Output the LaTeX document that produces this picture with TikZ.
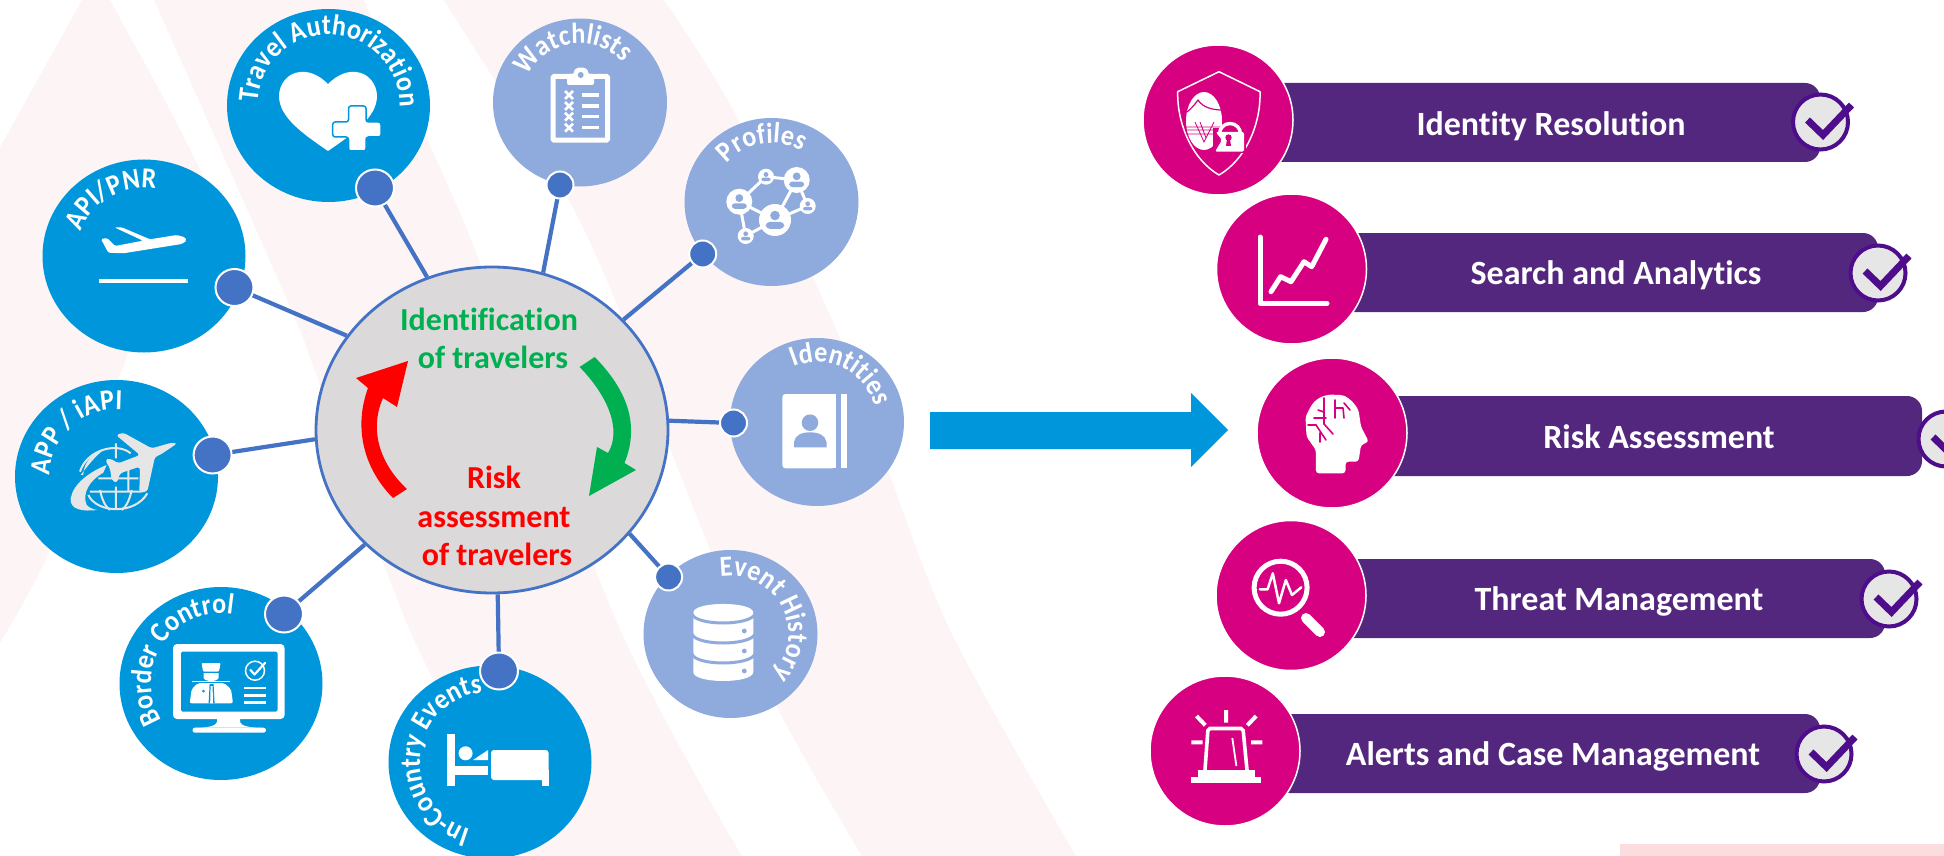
\documentclass[tikz,border=0pt]{standalone}
\usepackage{fontspec}
\setmainfont[Ligatures=NoCommon]{Carlito}
\newfontfamily\curvefam[FakeStretch=0.9,Ligatures=NoCommon]{Carlito}
\usetikzlibrary{shapes.geometric,decorations.text}
\definecolor{bgpink}{HTML}{FDF5F5}
\definecolor{bgrect}{HTML}{FBDDDF}
\definecolor{cblue}{HTML}{0096DB}
\definecolor{clight}{HTML}{8FAADC}
\definecolor{cdot}{HTML}{4472C4}
\definecolor{cgrey}{HTML}{DBD9DA}
\definecolor{cred}{HTML}{FF0000}
\definecolor{cgreen}{HTML}{00B050}
\definecolor{cpink}{HTML}{D60080}
\definecolor{cbar}{HTML}{54277F}
\definecolor{ccheck}{HTML}{4E0E8C}
\definecolor{cpale}{HTML}{E6E6E6}
\tikzset{
  bubble/.style={ellipse,inner sep=0pt,minimum width=203pt,minimum height=193pt,fill=cblue,draw=none},
  lbubble/.style={ellipse,inner sep=0pt,minimum width=174pt,minimum height=168pt,fill=clight,draw=none},
  bigdot/.style={ellipse,inner sep=0pt,minimum width=38pt,minimum height=37pt,fill=cdot,draw=white,line width=2pt},
  smalldot/.style={ellipse,inner sep=0pt,minimum width=27pt,minimum height=27pt,fill=cdot,draw=white,line width=2pt},
  conn/.style={draw=cdot,line width=4.2pt},
  hub/.style={ellipse,inner sep=0pt,minimum width=352pt,minimum height=326pt,fill=cgrey,draw=cdot,line width=2.8pt},
  pinkdisc/.style={circle,inner sep=0pt,minimum size=150pt,fill=cpink,draw=white,line width=1.5pt},
  bartext/.style={anchor=base,text=white,font=\fontsize{34}{40}\selectfont\bfseries},
  hubgreen/.style={anchor=base,text=cgreen,font=\fontsize{32}{38}\selectfont\bfseries},
  hubred/.style={anchor=base,text=cred,font=\fontsize{32}{38}\selectfont\bfseries},
  wline/.style={draw=white,line cap=round,line join=round},
}
\newcommand{\curvefont}{\color{white}\curvefam\fontsize{29}{33}\selectfont\bfseries}
\newcommand{\curvelabel}[5]{%
  \path[decorate,decoration={text along path,text align={left},text={|\curvefont|#5}}]
    ({#1+#3*cos(#4)},{#2-#3*sin(#4)}) arc[start angle={-(#4)},end angle={-(#4)+320},radius=#3];}
\newcommand{\chkring}[2]{%
  \begin{scope}[shift={(#1,#2)}]
    \fill[cpale,draw=ccheck,line width=4pt] (0,0) circle[radius=27.5];
    \draw[ccheck,line width=7pt,line join=miter] (-13,-2) -- (2.5,13) -- (31,-17);
  \end{scope}}
\newcommand{\netp}[3]{%
  \fill[white] (#1,#2) circle[radius=#3];
  \fill[clight] (#1,{#2-0.28*#3}) circle[radius={0.3*#3}];
  \fill[clight,rounded corners={0.25*#3}] ({#1-0.58*#3},{#2+0.12*#3}) rectangle ({#1+0.58*#3},{#2+0.55*#3});}
\begin{document}
\begin{tikzpicture}[x=1pt,y=-1pt]
\useasboundingbox (0,0) rectangle (1944,856);
\clip (0,0) rectangle (1944,856);
% background swooshes
\fill[bgpink] plot[smooth] coordinates {(663,-2) (737,117) (840,338) (890,476) (953,636) (1077,858)}
  -- plot[smooth] coordinates {(863,858) (778,709) (710,549) (673,456) (623,320) (567,197) (450,10) (443,-2)} -- cycle;
\fill[bgpink] plot[smooth] coordinates {(363,-2) (450,190) (480,263) (620,629) (743,858)}
  -- plot[smooth] coordinates {(532,858) (430,673) (387,573) (317,377) (287,300) (153,-2)} -- cycle;
\fill[bgpink] (82,0) -- (110,0) -- plot[smooth] coordinates {(110,0) (170,110) (215,200)}
  -- plot[smooth] coordinates {(128,353) (117,383) (47,557) (0,643)} -- (0,147) -- cycle;
\fill[bgrect] (1620,844) rectangle (1944,856);

% outer discs
\node[bubble] (ta) at (328.5,105.5) {};
\node[bubble] (api) at (144,256) {};
\node[bubble] (app) at (116.5,476.5) {};
\node[bubble] (border) at (221,683.5) {};
\node[bubble] (incountry) at (490,762) {};
\node[lbubble] (watch) at (580,102.5) {};
\node[lbubble] (profiles) at (771.5,202) {};
\node[lbubble] (identities) at (817,422) {};
\node[lbubble] (events) at (730.5,634) {};

% hub and connection dots
\node[hub] (hubc) at (492,430) {};
\draw[conn] (375,188) coordinate (cta) -- (hubc.113);
\node[bigdot] (dta) at (cta) {};
\draw[conn] (234.5,287.5) coordinate (capi) -- (hubc.147);
\node[bigdot] (dapi) at (capi) {};
\draw[conn] (212.6,455) coordinate (capp) -- (hubc.183);
\node[bigdot] (dapp) at (capp) {};
\draw[conn] (284,614) coordinate (cbor) -- (hubc.222);
\node[bigdot] (dborder) at (cbor) {};
\draw[conn] (499,671) coordinate (cinc) -- (hubc.272);
\node[bigdot] (dinc) at (cinc) {};
\draw[conn] (560,185) coordinate (cwat) -- (hubc.72);
\node[smalldot] (dwatch) at (cwat) {};
\draw[conn] (702.7,254) coordinate (cpro) -- (hubc.40);
\node[smalldot] (dprof) at (cpro) {};
\draw[conn] (733.5,423) coordinate (cide) -- (hubc.3);
\node[smalldot] (dident) at (cide) {};
\draw[conn] (668.6,577) coordinate (ceve) -- (hubc.-37.6);
\node[smalldot] (devent) at (ceve) {};

% curved labels
\curvelabel{328.5}{105.5}{71}{178}{Travel Authorization}
\curvelabel{144}{256}{68}{159}{API/PNR}
\curvelabel{116.5}{476.5}{67}{179}{APP / iAPI}
\curvelabel{221}{683.5}{70}{212}{Border Control}
\curvelabel{490}{762}{70}{254}{In-Country Events}
\curvelabel{580}{102.5}{59}{153}{Watchlists}
\curvelabel{771.5}{202}{59}{139}{Profiles}
\curvelabel{817}{422}{60}{113}{Identities}
\curvelabel{730.5}{634}{58}{100}{Event History}

% hub text
\node[hubgreen] (t1) at (489,330) {Identification};
\node[hubgreen] (t2) at (493,368) {of travelers};
\node[hubred] (t3) at (494,488) {Risk};
\node[hubred] (t4) at (494,527) {assessment};
\node[hubred] (t5) at (497,565) {of travelers};
% hub arrows
\fill[cred] (393,498) .. controls (367,472) and (352,432) .. (368,388) -- (356,378) -- (408,361) -- (397,407) -- (383,398)
  .. controls (368,432) and (382,466) .. (407,489) -- cycle;
\fill[cgreen] (579.6,367) .. controls (608,396) and (622,430) .. (608,453) -- (597,447) -- (589,496) -- (636,470) -- (624.5,463)
  .. controls (642,420) and (622,385) .. (594.7,357) -- cycle;

% --- icons: heart + cross
\fill[white] (328,84) .. controls (318,74) and (308,71) .. (300,72) .. controls (287,73) and (279,85) .. (279,96)
  .. controls (279,118) and (305,135) .. (328,151) .. controls (351,135) and (377,118) .. (377,96)
  .. controls (377,85) and (369,73) .. (356,72) .. controls (348,71) and (338,74) .. (328,84) -- cycle;
\filldraw[fill=white,draw=cblue,line width=1.5pt,rounded corners=2.5pt]
  (348.5,106) -- (366,106) -- (366,122) -- (381,122) -- (381,137) -- (366,137) -- (366,151) -- (348.5,151) -- (348.5,137) -- (332.7,137) -- (332.7,122) -- (348.5,122) -- cycle;
% plane
\fill[white,rounded corners=1.5pt] (101,239) -- (107,238) -- (115,246) -- (143,240.7) -- (114.3,227.3) -- (121.7,227.3) -- (150,239.3) -- (176.7,235) -- (185,237.3) -- (186.7,240.7) -- (181.7,244) -- (123.3,253.3) -- (108.3,252.7) -- cycle;
\fill[white] (99,279) rectangle (188,282.6);
% globe + plane
\begin{scope}[shift={(60,430)},x=0.3333pt,y=-0.3333pt]
  \draw[cpale,line width=2pt] (85,195) .. controls (110,250) and (225,255) .. (262,190);
  \draw[cpale,line width=2pt] (60,125) .. controls (80,60) and (170,35) .. (212,70);
  \draw[cpale,line width=2pt] (168,40) -- (168,85) (168,170) -- (168,240) (90,185) -- (245,185) (115,145) -- (235,145)
    (120,180) .. controls (125,205) and (135,230) .. (150,240) (215,180) .. controls (210,205) and (200,230) .. (185,240)
    (205,110) -- (205,185);
  \fill[cpale] (32,205) .. controls (40,160) and (90,125) .. (140,105) -- (130,128) .. controls (90,150) and (65,190) .. (80,225) .. controls (90,235) and (100,238) .. (112,240) .. controls (70,245) and (28,240) .. (32,205) -- cycle;
  \fill[cpale] (70,135) .. controls (70,100) and (95,70) .. (130,60) .. controls (105,80) and (85,105) .. (62,135) -- cycle;
  \fill[cpale,rounded corners=3pt] (352,40) -- (300,75) -- (285,80) -- (262,185) -- (238,188) -- (240,110) -- (180,130) -- (170,160) -- (155,150) -- (150,115) -- (135,90) -- (150,85) -- (175,100) -- (240,75) -- (168,15) -- (190,8) -- (275,55) -- (335,38) -- cycle;
\end{scope}
% monitor
\fill[white,rounded corners=4pt] (173,644) rectangle (284.6,719);
\fill[cblue,rounded corners=1.5pt] (181,651.7) rectangle (277.5,711.7);
\fill[white] (217,717) -- (240,717) -- (240,722) .. controls (241,726) and (250,727.7) .. (262,727.7) -- (195,727.7) .. controls (208,727.7) and (216,726) .. (217,722) -- cycle;
\fill[white,rounded corners=2.4pt] (192.5,727.7) rectangle (266,732.7);
% officer
\fill[white,rounded corners=1pt] (201.6,663) -- (220.6,663) -- (219,671.5) -- (203,671.5) -- cycle;
\fill[white] (203.6,673) -- (218.6,673) -- (218.6,678) .. controls (217,682) and (205,682) .. (203.6,678) -- cycle;
\fill[white,rounded corners=2pt] (198,683) -- (224,683) -- (231,689) -- (233,703.3) -- (189.7,703.3) -- (191.7,689) -- cycle;
\draw[white,line width=1pt] (192,681) -- (230,681);
\fill[cblue] (209.6,684) -- (213.6,684) -- (214.6,703.3) -- (208.6,703.3) -- cycle;
\fill[white] (210.6,686) -- (212.6,686) -- (213,703.3) -- (210.2,703.3) -- cycle;
\fill[cblue] (203.5,691) circle[radius=1.5];
\draw[white,line width=1.5pt] (255,670.7) circle[radius=9.5];
\draw[wline,line width=2.2pt] (250.5,670) -- (254.5,674.5) -- (265,663);
\draw[wline,line width=2.6pt,line cap=butt] (244,688) -- (266,688) (244,695.7) -- (266,695.7) (244,702.7) -- (266,702.7);
% bed
\fill[white] (446.6,734) rectangle (454.5,786);
\fill[white] (454.5,765.7) rectangle (488,775);
\fill[white] (465.6,753.3) circle[radius=7];
\fill[white] (473,760) -- (488,750) -- (488,760) -- cycle;
\fill[white,rounded corners=3pt] (491,750) -- (548.6,750) -- (548.6,780) -- (491,780) -- cycle;
\fill[white] (541.5,770) rectangle (548.6,786);
% clipboard
\draw[white,line width=5pt,rounded corners=1pt] (553.2,76.5) rectangle (607.5,140.2);
\fill[white,rounded corners=2pt] (567,74) -- (574,74) .. controls (574,66) and (588,66) .. (588,74) -- (594,74) -- (594,85) -- (567,85) -- cycle;
\fill[clight] (580.7,75) circle[radius=3];
\foreach \yy in {95,106,116.7,127.7}{
  \draw[white,line width=2.6pt] (565,\yy-4) -- (573,\yy+4) (565,\yy+4) -- (573,\yy-4);
  \draw[white,line width=3.6pt] (582.3,\yy) -- (599,\yy);
}
% network
\draw[white,line width=3pt] (766,176.7) -- (796.7,180) (766,176.7) -- (739.3,201.7) (796.7,180) -- (775,220) (796.7,180) -- (807.7,206)
  (775,220) -- (807.7,206) (739.3,201.7) -- (775,220) (739.3,201.7) -- (745.7,236) (745.7,236) -- (775,220);
\netp{766}{176.7}{8}
\netp{796.7}{180}{13}
\netp{739.3}{201.7}{13}
\netp{775}{220}{16}
\netp{807.7}{206}{8}
\netp{745.7}{236}{8}
% contact book
\fill[white,rounded corners=3pt] (782.4,394) -- (835.5,394) -- (835.5,468.3) -- (782.4,468.3) -- cycle;
\fill[white] (832,394) rectangle (835.5,468.3);
\fill[white] (840.8,394) rectangle (847,468.3);
\fill[clight] (810,422.7) circle[radius=8.3];
\fill[clight] (794,447.3) -- (794,442) .. controls (795,435) and (802,432.3) .. (810,432.3) .. controls (818,432.3) and (825.5,435) .. (826.5,442) -- (826.5,447.3) -- cycle;
% database
\fill[white] (693.3,612.7) .. controls (693.3,601) and (753.3,601) .. (753.3,612.7) -- (753.3,672) .. controls (753.3,684) and (693.3,684) .. (693.3,672) -- cycle;
\draw[clight,line width=3pt] (692,614) .. controls (696,626) and (750,626) .. (755,614)
  (692,634) .. controls (696,646) and (750,646) .. (755,634)
  (692,654) .. controls (696,666) and (750,666) .. (755,654);
\fill[clight] (744.3,631) circle[radius=2.4] (744.3,651) circle[radius=2.4] (744.3,671) circle[radius=2.4];

% central arrow
\fill[cblue] (930,412) -- (1191,412) -- (1191,393) -- (1228,430) -- (1191,467) -- (1191,449) -- (930,449) -- cycle;

% right bars
\fill[cbar,rounded corners=15pt] (1218,83) rectangle (1820,162);
\fill[cbar,rounded corners=15pt] (1292,233) rectangle (1878,312);
\fill[cbar,rounded corners=15pt] (1333,396) rectangle (1922,476);
\fill[cbar,rounded corners=15pt] (1291,559) rectangle (1885,638);
\fill[cbar,rounded corners=15pt] (1225,714) rectangle (1820,793);
\chkring{1820.5}{122}
\chkring{1878}{273}
\chkring{1946}{439}
\chkring{1889}{599}
\chkring{1824}{754}
\node[pinkdisc] (p1) at (1218,120) {};
\node[pinkdisc] (p2) at (1291.5,269) {};
\node[pinkdisc] (p3) at (1332,433) {};
\node[pinkdisc] (p4) at (1291,595.5) {};
\node[pinkdisc] (p5) at (1225,751) {};
\node[bartext] (b1) at (1551,136) {Identity Resolution};
\node[bartext] (b2) at (1616,284) {Search and Analytics};
\node[bartext] (b3) at (1659,448) {Risk Assessment};
\node[bartext] (b4) at (1619,610) {Threat Management};
\node[bartext] (b5) at (1553,765) {Alerts and Case Management};

% shield icon
\draw[white,line width=1.5pt,line join=round] (1219,71.7) -- (1260,91.7) .. controls (1261,125) and (1245,160) .. (1219,175) .. controls (1193,160) and (1177,125) .. (1177.7,91.7) -- cycle;
\fill[white] (1204,121) ellipse[x radius=18,y radius=29];
\draw[cpink,line width=1.2pt] (1187,112) .. controls (1192,108) and (1196,103) .. (1198,100) .. controls (1203,108) and (1214,110) .. (1222,110);
\draw[cpink,line width=0.8pt] (1186,127) -- (1222,127) (1186,130) -- (1222,130) (1186,134) -- (1222,134) (1195,122) -- (1204,142) -- (1214,122) (1200,122) -- (1206,138);
\fill[cpink] (1213,128) rectangle (1246,153);
\draw[white,line width=3.4pt] (1219.5,134) arc[start angle=180,end angle=360,radius=10.5];
\fill[white,rounded corners=2pt] (1215.7,132) -- (1244,132) -- (1244,151.7) -- (1215,151.7) -- (1222,140) -- cycle;
\fill[cpink] (1228.5,137.5) circle[radius=3.2];
\fill[cpink] (1227,139) -- (1230,139) -- (1231,146) -- (1226,146) -- cycle;
% chart icon
\draw[wline,line width=5pt,line cap=round] (1260,237) -- (1260,303.5) -- (1327,303.5);
\draw[wline,line width=5pt] (1271,291.7) -- (1280.6,276.7) -- (1291,281.7) -- (1304,261.7) -- (1311.7,266.7) -- (1326,239.3);
% head icon
\fill[white,rounded corners=3pt] (1315.9,473.3) -- (1345.5,473.3) -- (1345.5,461.7) -- (1358.5,461.7) -- (1361,445) -- (1368.8,441.7) -- (1361,426.7) -- (1358.5,410) .. controls (1352,400) and (1345,395) .. (1337.7,395) .. controls (1325,394) and (1317,398) .. (1311,406) -- (1305.5,416.7) -- (1306.5,436.7) -- (1315.9,450) -- cycle;
\draw[cpink,line width=1.6pt,line cap=round] (1324,398) -- (1324,424) -- (1333,434) (1335,400) -- (1335,418) (1335,408) -- (1343,408) (1343,408) -- (1344,418) (1314,418) -- (1326,418) (1318,410) -- (1324,412) (1308,425) -- (1316,425) -- (1326,440) (1320,433) -- (1320,442) (1344,403) -- (1350,410);
% magnifier icon
\draw[white,line width=5pt] (1280.6,587.7) circle[radius=26.5];
\draw[white,line width=10pt,line cap=round] (1306,618) -- (1320,632);
\draw[wline,line width=2.5pt] (1259.8,589.3) -- (1267.6,589.3) -- (1272.8,573.3) -- (1279,603.3) -- (1285.8,580) -- (1292,595) -- (1301.3,587.3);
% alarm icon
\fill[white] (1191.3,776.7) rectangle (1261.4,783.3);
\fill[white] (1197.5,770) rectangle (1254.6,776.7);
\draw[white,line width=3.6pt,rounded corners=2pt] (1205,770) -- (1208,728.5) -- (1243,728.5) -- (1247,770);
\draw[white,line width=1.8pt] (1232.3,738) -- (1236.4,766);
\draw[white,line width=4pt] (1226,710) -- (1226,722.7) (1196.5,716) -- (1205.3,725.3) (1256.2,716) -- (1247.3,725.3) (1191.3,742.3) -- (1202.7,742.3) (1251,742.3) -- (1262.4,742.3);
\end{tikzpicture}
\end{document}
